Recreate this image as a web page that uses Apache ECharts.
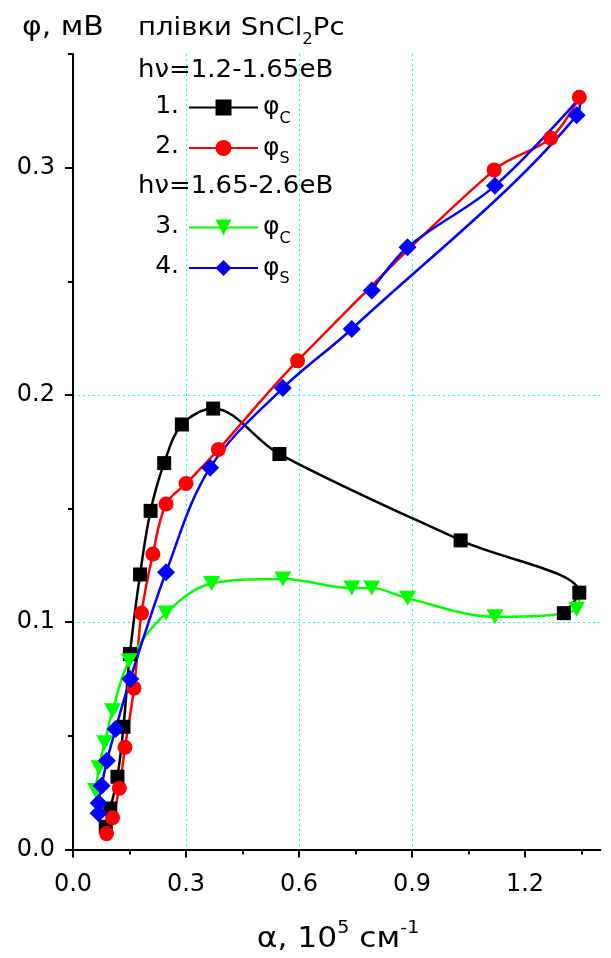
<!DOCTYPE html>
<html><head><meta charset="utf-8">
<script src="https://cdn.jsdelivr.net/npm/echarts@6/dist/echarts.min.js"></script>
<style>html,body{margin:0;padding:0;background:#fff}#c{width:611px;height:958px}</style>
</head><body><div id="c"></div>
<script>
const FONT = '"DejaVu Sans", "Liberation Sans", Arial, sans-serif';

// 1. φC, hν = 1.2-1.65 eB   [α (10^5 cm^-1), φ (mV)]
const phiC1 = [[0.087,0.010],[0.099,0.018],[0.118,0.032],[0.134,0.054],[0.151,0.086],[0.178,0.121],[0.206,0.149],[0.242,0.170],[0.289,0.187],[0.372,0.194],[0.548,0.174],[1.029,0.136],[1.344,0.113],[1.303,0.104]];
// 2. φS, hν = 1.2-1.65 eB
const phiS1 = [[0.089,0.007],[0.105,0.014],[0.123,0.027],[0.138,0.045],[0.162,0.071],[0.182,0.104],[0.212,0.130],[0.247,0.152],[0.300,0.161],[0.386,0.176],[0.596,0.215],[1.118,0.299],[1.268,0.313],[1.344,0.331]];
// 3. φC, hν = 1.65-2.6 eB
const phiC2 = [[0.060,0.026],[0.069,0.036],[0.084,0.047],[0.105,0.061],[0.149,0.083],[0.247,0.104],[0.368,0.117],[0.557,0.119],[0.740,0.115],[0.793,0.115],[0.888,0.1105],[1.120,0.1024],[1.337,0.1057],[1.344,0.114]];
const phiC2NoMarker = [13];
// 4. φS, hν = 1.65-2.6 eB
const phiS2 = [[0.068,0.016],[0.068,0.0205],[0.076,0.028],[0.090,0.039],[0.113,0.053],[0.152,0.075],[0.247,0.122],[0.364,0.168],[0.557,0.203],[0.740,0.229],[1.337,0.323],[1.347,0.331],[1.120,0.292],[0.888,0.265],[0.793,0.246]];
const phiS2NoMarker = [11];

const xMajorTicks = [0, 0.3, 0.6, 0.9, 1.2];
const xMinorTicks = [0.15, 0.45, 0.75, 1.05, 1.35];
const yMajorTicks = [0, 0.1, 0.2, 0.3];
const yMinorTicks = [0.05, 0.15, 0.25, 0.35];

const legendSub = {s1: 'C', s2: 'S', s3: 'C', s4: 'S'};

function items(arr, hidden) {
  return arr.map((p, i) => (hidden && hidden.includes(i)) ? {value: p, symbol: 'none'} : p);
}

const chart = echarts.init(document.getElementById('c'), null, {renderer: 'canvas'});

const axisLineStyle = {color: '#000', width: 2};
const gridLine = {show: true, showMinLine: false, showMaxLine: false, lineStyle: {color: '#00ffff', width: 1, type: [2, 3]}};

function lineSeries(name, data, color, symbol, size, extra) {
  return Object.assign({
    name, type: 'line', data, smooth: 0.35,
    symbol, symbolSize: size,
    lineStyle: {color, width: 2.5},
    itemStyle: {color, borderWidth: 0},
    emphasis: {disabled: true},
    animation: false, clip: false
  }, extra || {});
}

const legendRich = {
  p: {fontFamily: FONT, fontSize: 25, lineHeight: 38, color: '#000'},
  s: {fontFamily: FONT, fontSize: 16, lineHeight: 16, color: '#000', verticalAlign: 'bottom'}
};
const legendCommon = {
  orient: 'vertical', left: 188, padding: 0, itemWidth: 69, itemHeight: 20, itemGap: 9,
  selectedMode: false,
  formatter: n => '{p|φ}{s|' + legendSub[n] + '}',
  textStyle: {rich: legendRich, fontFamily: FONT, fontSize: 25, color: '#000'}
};

function gtext(x, y, text, size, align, sx, rich) {
  return {type: 'text', x, y, scaleX: sx || 1, style: {text, fill: '#000', font: size + 'px ' + FONT, align: align || 'left', verticalAlign: 'middle', rich}};
}

const option = {
  backgroundColor: '#fff',
  animation: false,
  grid: {left: 73, right: 10.6, top: 54, bottom: 108.5, outerBoundsMode: 'none', containLabel: false},
  xAxis: [
    {type: 'value', min: 0, max: 1.4, interval: 0.3,
     axisLine: {show: true, onZero: false, lineStyle: axisLineStyle},
     axisTick: {show: true, length: 8, customValues: xMajorTicks, lineStyle: {color: '#000', width: 2}},
     axisLabel: {show: true, customValues: xMajorTicks, margin: 23, fontFamily: FONT, fontSize: 24, color: '#000', formatter: v => v.toFixed(1)},
     splitLine: gridLine, minorTick: {show: false}},
    {type: 'value', min: 0, max: 1.4, interval: 0.15, position: 'bottom',
     axisLine: {show: false},
     axisTick: {show: true, length: 5, customValues: xMinorTicks, lineStyle: {color: '#000', width: 2}},
     axisLabel: {show: false}, splitLine: {show: false}}
  ],
  yAxis: [
    {type: 'value', min: 0, max: 0.35, interval: 0.1,
     axisLine: {show: true, onZero: false, lineStyle: axisLineStyle},
     axisTick: {show: true, length: 8, customValues: yMajorTicks, lineStyle: {color: '#000', width: 2}},
     axisLabel: {show: true, customValues: yMajorTicks, margin: 18, fontFamily: FONT, fontSize: 24, color: '#000', formatter: v => v.toFixed(1)},
     splitLine: gridLine},
    {type: 'value', min: 0, max: 0.35, interval: 0.05, position: 'left',
     axisLine: {show: false},
     axisTick: {show: true, length: 5, customValues: yMinorTicks, lineStyle: {color: '#000', width: 2}},
     axisLabel: {show: false}, splitLine: {show: false}}
  ],
  legend: [
    Object.assign({}, legendCommon, {top: 95, data: ['s1', 's2']}),
    Object.assign({}, legendCommon, {top: 215, data: ['s3', 's4']})
  ],
  series: [
    lineSeries('s1', items(phiC1), '#000000', 'rect', 14),
    lineSeries('s2', items(phiS1), '#ff0000', 'circle', 15),
    lineSeries('s3', items(phiC2, phiC2NoMarker), '#00ff00', 'triangle', [17, 15], {symbolRotate: 180}),
    lineSeries('s4', items(phiS2, phiS2NoMarker), '#0000ff', 'diamond', 18)
  ],
  graphic: [
    gtext(22, 28, 'φ, мВ', 26, 'left', 1.15),
    gtext(138, 28, '{a|плівки SnCl}{b|2}{a|Pc}', 25, 'left', 1.1, {
      a: {fontFamily: FONT, fontSize: 25, lineHeight: 40, fill: '#000'},
      b: {fontFamily: FONT, fontSize: 15, lineHeight: 15, verticalAlign: 'bottom', fill: '#000'}}),
    gtext(138, 70, 'hν=1.2-1.65eB', 25, 'left', 1.04),
    gtext(138, 186, 'hν=1.65-2.6eB', 25, 'left', 1.04),
    gtext(179, 106, '1.', 25, 'right'),
    gtext(179, 146, '2.', 25, 'right'),
    gtext(179, 226, '3.', 25, 'right'),
    gtext(179, 266, '4.', 25, 'right'),
    gtext(338, 940, '{a|α, 10}{u|5}{a| см}{u|-1}', 28, 'center', 1.12, {
      a: {fontFamily: FONT, fontSize: 28, lineHeight: 40, fill: '#000'},
      u: {fontFamily: FONT, fontSize: 17, lineHeight: 17, verticalAlign: 'top', fill: '#000'}})
  ]
};
chart.setOption(option);
</script></body></html>
